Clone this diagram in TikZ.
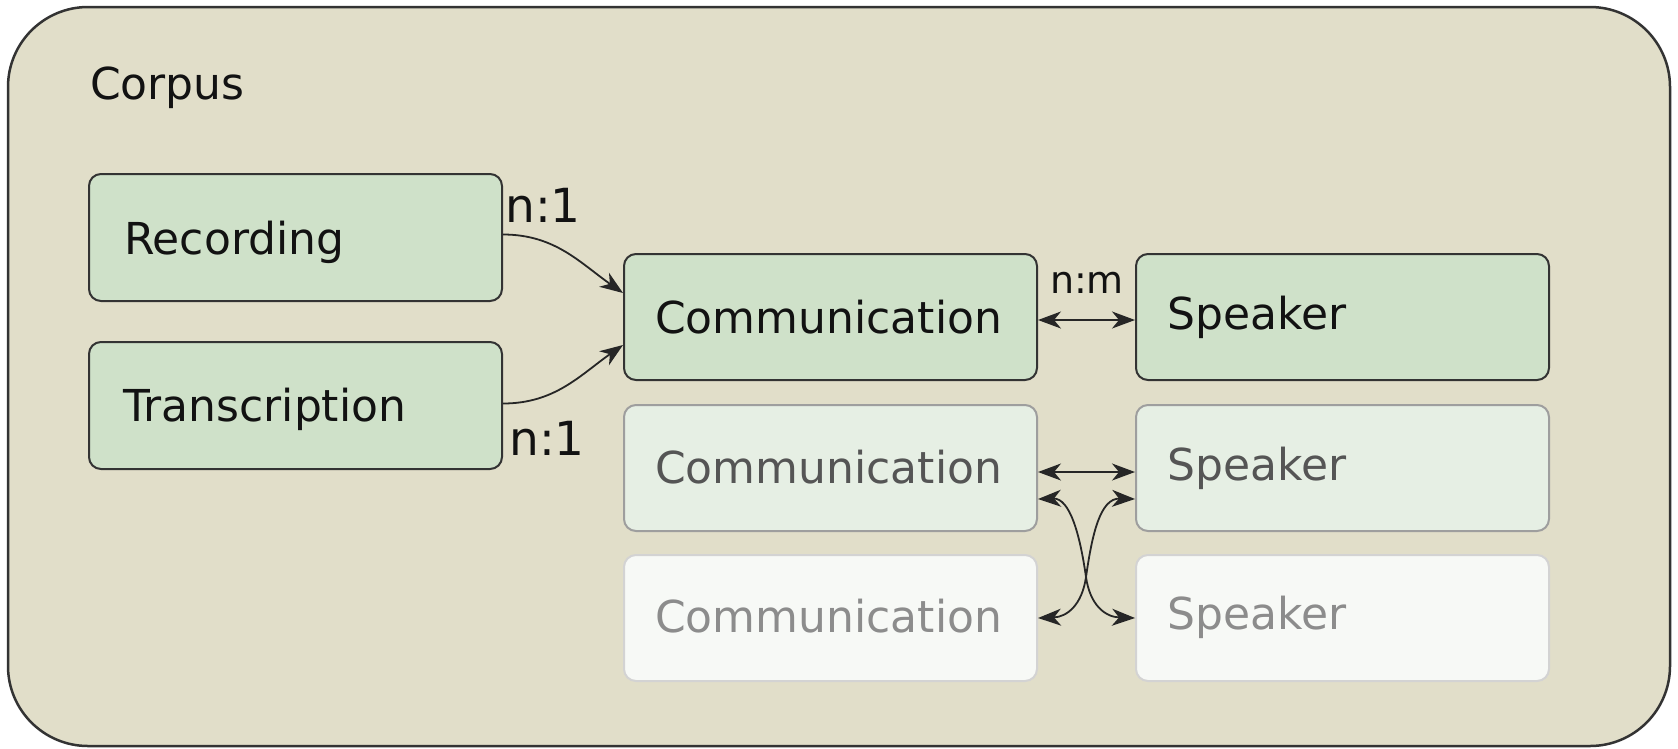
\documentclass[tikz,border=0pt]{standalone}
\usepackage{fontspec}
\setmainfont{DejaVu Sans}
\usetikzlibrary{arrows.meta}
\definecolor{bgcol}{HTML}{E1DEC9}
\definecolor{grA}{HTML}{CFE1C9}
\definecolor{grB}{HTML}{E6EFE4}
\definecolor{grC}{HTML}{F7F9F6}
\definecolor{bdA}{HTML}{333333}
\definecolor{bdB}{HTML}{9E9E9E}
\definecolor{bdC}{HTML}{D3D3D3}
\definecolor{txB}{HTML}{555555}
\definecolor{txC}{HTML}{8C8C8C}
\begin{document}
\begin{tikzpicture}[x=1pt,y=-1pt,
  boxbase/.style={rectangle,rounded corners=12pt,minimum width=413pt,minimum height=126pt,inner sep=0pt,anchor=north west,line width=2pt},
  boxA/.style={boxbase,fill=grA,draw=bdA},
  boxB/.style={boxbase,fill=grB,draw=bdB},
  boxC/.style={boxbase,fill=grC,draw=bdC},
  txt/.style={anchor=base west,inner sep=0pt,font=\fontsize{44}{52}\selectfont},
  txtA/.style={txt,text=black!93},
  txtB/.style={txt,text=txB},
  txtC/.style={txt,text=txC},
  lbl/.style={anchor=base west,inner sep=0pt,font=\fontsize{47}{56}\selectfont,text=black!93},
  conn/.style={line width=1.8pt,draw=black!85},
  tip/.tip={Stealth[length=23pt,width=17pt,inset=7pt]}
]
\useasboundingbox (0,0) rectangle (1678,748);
\fill[white] (0,0) rectangle (1678,748);
\draw[line width=2.5pt,draw=bdA,fill=bgcol,rounded corners=80pt] (8,7) rectangle (1670,746);
\node[txtA] (corpus) at (90,99) {Corpus};

% boxes
\node[boxA,minimum height=127pt] (rec) at (88,173) {};
\node[boxA,minimum height=127pt] (tra) at (88,341) {};
\node[boxA] (c1) at (623,253) {};
\node[boxA] (s1) at (1135,253) {};
\node[boxB] (c2) at (623,404) {};
\node[boxB] (s2) at (1135,404) {};
\node[boxC] (c3) at (623,554) {};
\node[boxC] (s3) at (1135,554) {};

% texts
\node[txtA] (trec) at (124,254) {Recording};
\node[txtA] (ttra) at (123,421) {Transcription};
\node[txtA] (tc1) at (655,333) {Communication};
\node[txtA] (ts1) at (1167,329) {Speaker};
\node[txtB] (tc2) at (655,483) {Communication};
\node[txtB] (ts2) at (1167,480) {Speaker};
\node[txtC] (tc3) at (655,632) {Communication};
\node[txtC] (ts3) at (1167,629) {Speaker};

% labels
\node[lbl] (l1) at (505,222) {n:1};
\node[lbl] (l2) at (509,455) {n:1};
\node[anchor=base,inner sep=0pt,font=\fontsize{38}{46}\selectfont,text=black!93] (lnm) at (1087,293) {n:m};

% connectors
\draw[conn,-{tip}] ([yshift=3pt]rec.east) to[out=0,in=145] ([yshift=24pt]c1.west);
\draw[conn,-{tip}] ([yshift=2pt]tra.east) to[out=0,in=-145] ([yshift=-28pt]c1.west);
\draw[conn,{tip}-{tip}] ([yshift=-3pt]c1.east) -- ([yshift=-3pt]s1.west);
\draw[conn,{tip}-{tip}] ([yshift=-4pt]c2.east) -- ([yshift=-4pt]s2.west);
\coordinate (xc) at (1086,577);
\draw[conn,{tip}-{tip}] ([yshift=-31pt]c2.east) .. controls (1070,498) and (1080,535) .. (xc)
   .. controls (1090,605) and (1105,617) .. (s3.west);
\draw[conn,{tip}-{tip}] ([yshift=-31pt]s2.west) .. controls (1100,498) and (1092,535) .. (xc)
   .. controls (1082,605) and (1067,617) .. (c3.east);
\end{tikzpicture}
\end{document}
